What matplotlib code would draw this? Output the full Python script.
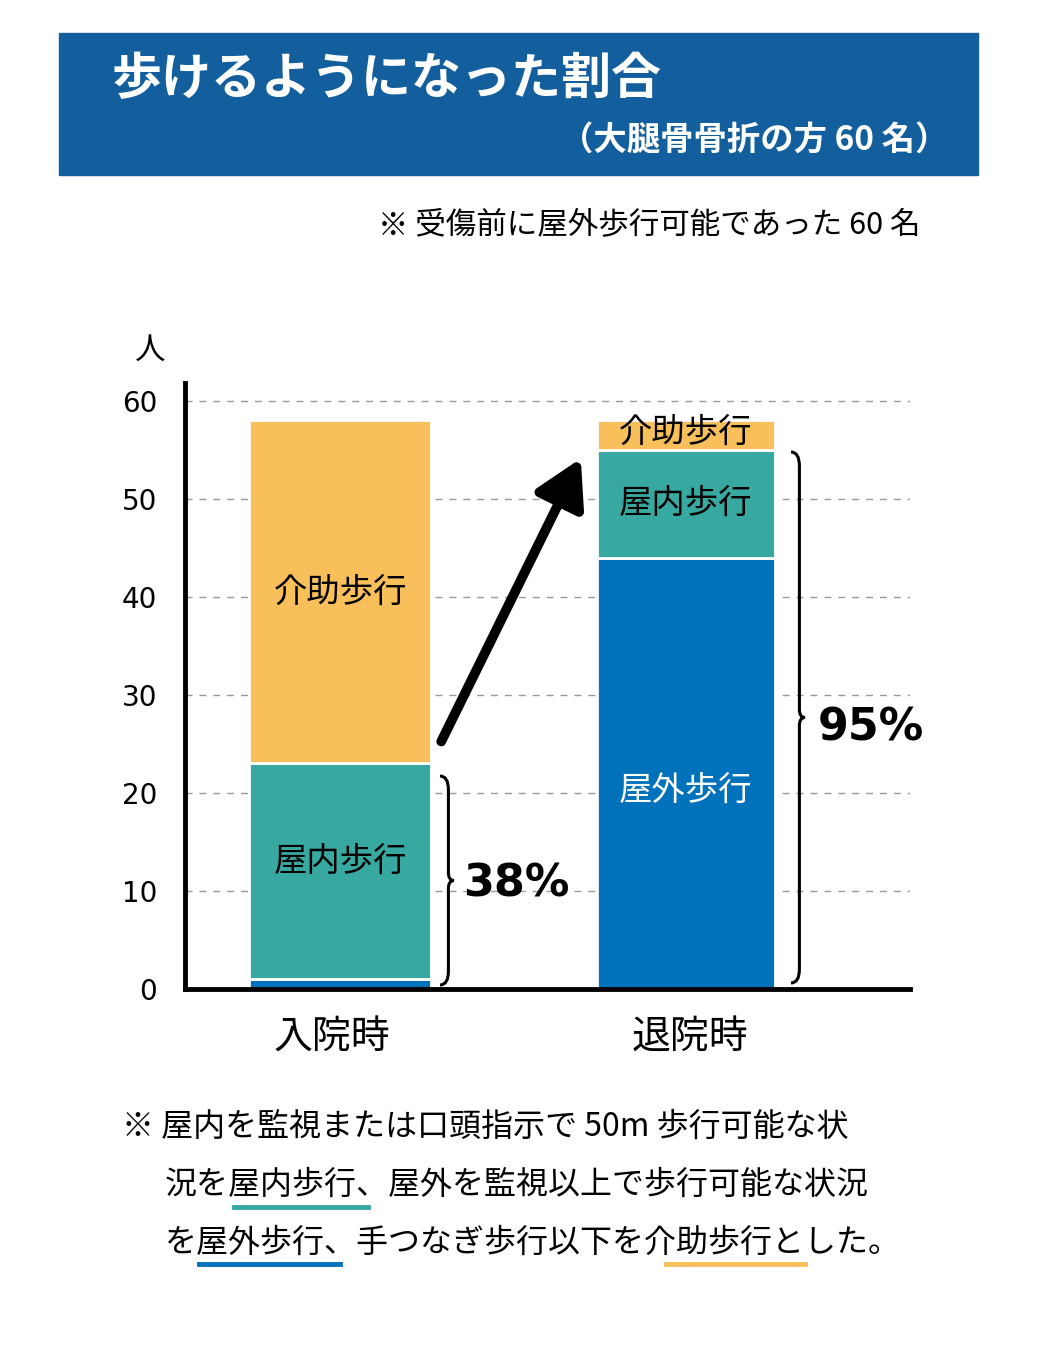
import matplotlib.pyplot as plt
from matplotlib.patches import Rectangle, PathPatch, FancyArrowPatch
from matplotlib.path import Path

plt.rcParams['font.family'] = 'Noto Sans CJK JP'

W, H = 1038, 1361
categories = ['入院時', '退院時']
outdoor = [1, 44]     # 屋外歩行
indoor = [22, 11]     # 屋内歩行
assisted = [35, 3]    # 介助歩行
pct_labels = ['38%', '95%']
yticks = [0, 10, 20, 30, 40, 50, 60]

c_blue = '#0072BB'
c_teal = '#37A9A1'
c_orange = '#F8BF5A'
c_title = '#135F9E'

fig = plt.figure(figsize=(W / 100, H / 100), dpi=100)


def fx(x):
    return x / W


def fy(y):
    return 1 - y / H


# title box
fig.patches.append(Rectangle((fx(59), fy(175)), fx(978) - fx(59), fy(33) - fy(175),
                             transform=fig.transFigure, color=c_title))
fig.text(fx(112), fy(80), '歩けるようになった割合', color='white', fontsize=36,
         va='center', ha='left', fontweight='bold')
fig.text(fx(948), fy(140), '（大腿骨骨折の方 60 名）', color='white', fontsize=24,
         va='center', ha='right', fontweight='bold')
fig.text(fx(920), fy(226), '※ 受傷前に屋外歩行可能であった 60 名', fontsize=22,
         va='center', ha='right')

ax = fig.add_axes([fx(185), fy(989), fx(910) - fx(185), fy(383) - fy(989)])
ax.set_xlim(0, 1)
ax.set_ylim(0, 61.8)
xpos = [0.214, 0.691]
widths = [0.251, 0.2455]
for y in yticks[1:]:
    ax.axhline(y, color='#999999', ls=(0, (5, 5)), lw=1, zorder=0)
ax.bar(xpos, outdoor, width=widths, color=c_blue, edgecolor='white', lw=2, zorder=2)
ax.bar(xpos, indoor, bottom=outdoor, width=widths, color=c_teal, edgecolor='white', lw=2, zorder=2)
base2 = [o + i for o, i in zip(outdoor, indoor)]
ax.bar(xpos, assisted, bottom=base2, width=widths, color=c_orange, edgecolor='white', lw=2, zorder=2)

for s in ['top', 'right']:
    ax.spines[s].set_visible(False)
for s in ['left', 'bottom']:
    ax.spines[s].set_linewidth(3.5)
ax.set_yticks(yticks)
ax.set_yticklabels([str(v) for v in yticks], fontsize=20, fontfamily='DejaVu Sans')
ax.tick_params(axis='y', length=0, pad=20)
ax.set_xticks([])
ax.text(-0.05, 62.5, '', fontsize=1)

fig.text(fx(150), fy(350), '人', fontsize=22, ha='center', va='center')
for x, lab in zip([332, 690], categories):
    fig.text(fx(x), fy(1038), lab, fontsize=28, ha='center', va='center')

# segment labels
ax.text(xpos[0], outdoor[0] + indoor[0] + assisted[0] / 2, '介助歩行', fontsize=24, ha='center', va='center')
ax.text(xpos[0], outdoor[0] + indoor[0] / 2 + 1, '屋内歩行', fontsize=24, ha='center', va='center')
ax.text(xpos[1], base2[1] + assisted[1] / 2 + 0.3, '介助歩行', fontsize=24, ha='center', va='center')
ax.text(xpos[1], outdoor[1] + indoor[1] / 2, '屋内歩行', fontsize=24, ha='center', va='center')
ax.text(xpos[1], outdoor[1] * 0.46, '屋外歩行', fontsize=24, ha='center', va='center', color='white')


def brace(x0, y_top, y_bot, w):
    ym = (y_top + y_bot) / 2
    pts = [(x0, y_top), (x0 + w * 0.6, y_top), (x0 + w * 0.6, y_top + 14),
           (x0 + w * 0.6, ym - 8), (x0 + w * 0.6, ym), (x0 + w, ym),
           (x0 + w * 0.6, ym), (x0 + w * 0.6, ym + 8), (x0 + w * 0.6, y_bot - 14),
           (x0 + w * 0.6, y_bot), (x0, y_bot)]
    codes = [Path.MOVETO, Path.CURVE3, Path.CURVE3, Path.LINETO, Path.CURVE3, Path.CURVE3,
             Path.CURVE3, Path.CURVE3, Path.LINETO, Path.CURVE3, Path.CURVE3]
    verts = [(fx(a), fy(b)) for a, b in pts]
    fig.patches.append(PathPatch(Path(verts, codes), transform=fig.transFigure,
                                 fill=False, lw=2.2, color='black'))


brace(440, 776, 985, 14)
brace(791, 452, 983, 14)
fig.text(fx(463), fy(884), pct_labels[0], fontsize=32, fontweight='bold', va='center', ha='left',
         fontfamily='DejaVu Sans')
fig.text(fx(818), fy(728), pct_labels[1], fontsize=32, fontweight='bold', va='center', ha='left',
         fontfamily='DejaVu Sans')

arrow = FancyArrowPatch((fx(440), fy(744)), (fx(582), fy(456)), transform=fig.transFigure,
                        arrowstyle='-|>,head_length=14,head_width=8', mutation_scale=2,
                        lw=7, color='black')
fig.patches.append(arrow)

# bottom note
notes = [(122, 1127, '※ 屋内を監視または口頭指示で 50m 歩行可能な状'),
         (165, 1185, '況を屋内歩行、屋外を監視以上で歩行可能な状況'),
         (165, 1243, 'を屋外歩行、手つなぎ歩行以下を介助歩行とした。')]
for x, y, t in notes:
    fig.text(fx(x), fy(y), t, fontsize=23, va='center', ha='left')
for x0, x1, y, c in [(234, 368, 1207, c_teal), (199, 340, 1264, c_blue), (666, 805, 1264, c_orange)]:
    fig.lines.append(plt.Line2D([fx(x0), fx(x1)], [fy(y), fy(y)], transform=fig.transFigure,
                                color=c, lw=3.5))

fig.savefig('out.png', dpi=100)
